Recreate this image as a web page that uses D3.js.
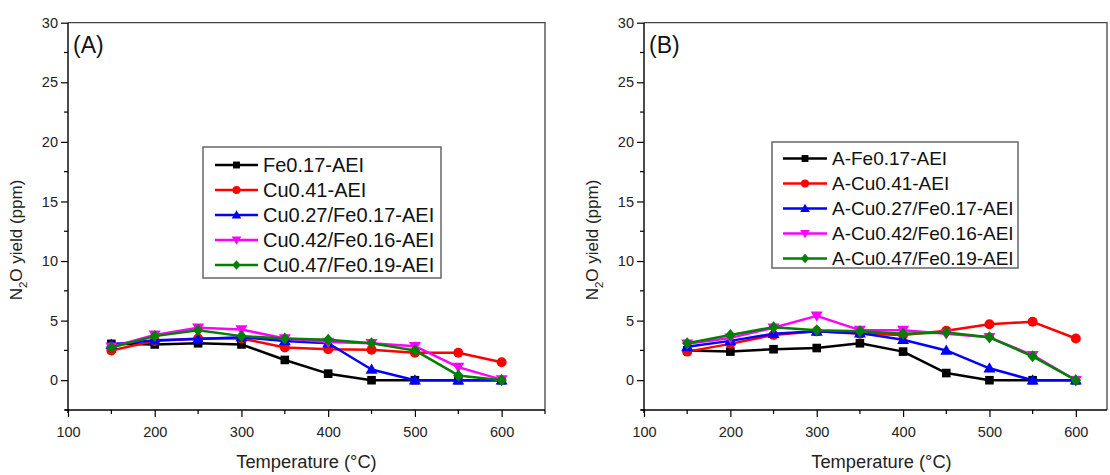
<!DOCTYPE html>
<html><head><meta charset="utf-8">
<script src="https://cdn.jsdelivr.net/npm/d3@7"></script>
<style>
html,body{margin:0;padding:0;background:#fff;overflow:hidden;}
svg{display:block;font-family:"Liberation Sans",Arial,sans-serif;}
</style></head>
<body>
<svg id="c" width="1110" height="475"></svg>
<script>
const temps = [150,200,250,300,350,400,450,500,550,600];
const xTicks = [100,200,300,400,500,600];
const yTicks = [0,5,10,15,20,25,30];

const namesA = ["Fe0.17-AEI","Cu0.41-AEI","Cu0.27/Fe0.17-AEI","Cu0.42/Fe0.16-AEI","Cu0.47/Fe0.19-AEI"];
const feA    = [3.05,3.0,3.1,3.0,1.7,0.55,0,0,0,0];
const cuA    = [2.5,3.3,3.5,3.5,2.75,2.6,2.55,2.3,2.3,1.5];
const cuFe27A= [3.0,3.35,3.45,3.6,3.3,3.1,0.9,0,0,0];
const cuFe42A= [2.8,3.8,4.4,4.25,3.5,3.2,3.1,2.85,1.1,0.05];
const cuFe47A= [2.75,3.7,4.2,3.7,3.5,3.4,3.1,2.5,0.4,0];

const namesB = ["A-Fe0.17-AEI","A-Cu0.41-AEI","A-Cu0.27/Fe0.17-AEI","A-Cu0.42/Fe0.16-AEI","A-Cu0.47/Fe0.19-AEI"];
const feB    = [2.5,2.4,2.6,2.7,3.1,2.4,0.6,0,0,0];
const cuB    = [2.4,3.05,3.8,4.1,3.9,3.8,4.15,4.7,4.9,3.5];
const cuFe27B= [2.8,3.3,3.9,4.1,3.95,3.4,2.5,1.0,0,0];
const cuFe42B= [3.05,3.55,4.4,5.4,4.2,4.2,3.9,3.6,2.1,0];
const cuFe47B= [3.1,3.8,4.45,4.2,4.1,3.9,4.0,3.6,2.0,0];

const colors = ["#000000","#ff0000","#0000ff","#ff00ff","#008000"];
const symbols = ["square","circle","triUp","triDown","diamond"];

const svg = d3.select("#c");

function marker(g, type, color, x, y, s) {
  s = s || 1;
  if (type === "square") {
    g.append("rect").attr("x", x-4.3*s).attr("y", y-4.3*s).attr("width", 8.6*s).attr("height", 8.6*s).attr("fill", color);
  } else if (type === "circle") {
    g.append("circle").attr("cx", x).attr("cy", y).attr("r", 5*s).attr("fill", color);
  } else if (type === "triUp") {
    g.append("path").attr("d", `M${x},${y-6*s}L${x+6*s},${y+4.3*s}L${x-6*s},${y+4.3*s}Z`).attr("fill", color);
  } else if (type === "triDown") {
    g.append("path").attr("d", `M${x},${y+6*s}L${x+6*s},${y-4.3*s}L${x-6*s},${y-4.3*s}Z`).attr("fill", color);
  } else if (type === "diamond") {
    g.append("path").attr("d", `M${x},${y-6*s}L${x+5.2*s},${y}L${x},${y+6*s}L${x-5.2*s},${y}Z`).attr("fill", color);
  }
}

function panel(opt) {
  const x = d3.scaleLinear().domain([100,650]).range([opt.x0, opt.x1]);
  const y = d3.scaleLinear().domain([-2.5,30]).range([410, 22.7]);
  const g = svg.append("g");
  const rightEdge = Math.min(x(650), 1107);

  g.append("path").attr("d", `M${x(100)},${y(30)}H${rightEdge}V${y(-2.5)}`)
    .attr("fill","none").attr("stroke","#444").attr("stroke-width",1.3);

  const xa = g.append("g").attr("transform", `translate(0,${y(-2.5)})`)
    .call(d3.axisBottom(x).tickValues(xTicks).tickSize(7).tickSizeOuter(0).tickFormat(d3.format("d")));
  xa.select(".domain").remove();
  xa.selectAll("text").attr("font-size", 14.5).attr("fill","#222").attr("dy","1.15em");
  xa.selectAll("line").attr("stroke","#000").attr("stroke-width",1.2);
  const xMinor = d3.range(150, 651, 100);
  xa.selectAll(".minor").data(xMinor).enter().append("line")
    .attr("x1", d=>x(d)).attr("x2", d=>x(d)).attr("y1",0).attr("y2",4)
    .attr("stroke","#000").attr("stroke-width",1.2);
  g.append("line").attr("x1", x(100)-3).attr("x2", rightEdge).attr("y1", y(-2.5)).attr("y2", y(-2.5))
    .attr("stroke","#000").attr("stroke-width",1.4);

  const ya = g.append("g").attr("transform", `translate(${x(100)},0)`)
    .call(d3.axisLeft(y).tickValues(yTicks).tickSize(7).tickSizeOuter(0).tickPadding(3));
  ya.select(".domain").remove();
  ya.selectAll("text").attr("font-size", 14.5).attr("fill","#222");
  ya.selectAll("line").attr("stroke","#000").attr("stroke-width",1.2);
  const yMinor = d3.range(-2.5, 30, 5);
  ya.selectAll(".minor").data(yMinor).enter().append("line")
    .attr("x1",-4).attr("x2",0).attr("y1", d=>y(d)).attr("y2", d=>y(d))
    .attr("stroke","#000").attr("stroke-width",1.2);
  g.append("line").attr("x1", x(100)).attr("x2", x(100)).attr("y1", y(30)).attr("y2", y(-2.5)+3)
    .attr("stroke","#000").attr("stroke-width",1.4);

  g.append("text").attr("x", (x(100)+x(650))/2).attr("y", 468)
    .attr("text-anchor","middle").attr("font-size",18.3).attr("fill","#222").text("Temperature (\u00B0C)");
  const yt = g.append("text").attr("transform", `translate(${x(100)-46},${240}) rotate(-90)`)
    .attr("text-anchor","middle").attr("font-size",17).attr("fill","#222");
  yt.append("tspan").text("N");
  yt.append("tspan").attr("font-size",11.5).attr("dy",5).text("2");
  yt.append("tspan").attr("dy",-5).text("O yield (ppm)");

  g.append("text").attr("x", x(100)+5).attr("y", 53).attr("font-size",23).attr("fill","#111").text(opt.label);

  const line = d3.line().x((d,i)=>x(temps[i])).y(d=>y(d));
  opt.series.forEach((s,k)=>{
    g.append("path").datum(s).attr("d", line).attr("fill","none")
      .attr("stroke", colors[k]).attr("stroke-width",2.5).attr("stroke-linejoin","round");
    s.forEach((v,i)=> marker(g, symbols[k], colors[k], x(temps[i]), y(v)));
  });

  const L = opt.legend;
  g.append("rect").attr("x", L.x).attr("y", L.y).attr("width", L.w).attr("height", L.h)
    .attr("fill","#fff").attr("stroke","#666").attr("stroke-width",1.5);
  opt.names.forEach((n,k)=>{
    const ly = L.y + L.first + k*L.step;
    g.append("line").attr("x1", L.lx).attr("x2", L.lx+L.ll).attr("y1", ly).attr("y2", ly)
      .attr("stroke", colors[k]).attr("stroke-width",2.5);
    marker(g, symbols[k], colors[k], L.lx+L.ll/2, ly, 0.8);
    g.append("text").attr("x", L.lx+L.ll+5).attr("y", ly).attr("dy","0.36em")
      .attr("font-size", L.fs).attr("fill","#111").text(n);
  });
}

panel({x0:68, x1:545, label:"(A)", names:namesA,
  series:[feA,cuA,cuFe27A,cuFe42A,cuFe47A],
  legend:{x:203, y:147, w:238, h:131, first:18, step:25, lx:215, ll:43, fs:20}});
panel({x0:644, x1:1119, label:"(B)", names:namesB,
  series:[feB,cuB,cuFe27B,cuFe42B,cuFe47B],
  legend:{x:772, y:142, w:246, h:126, first:16.5, step:25, lx:783, ll:44, fs:19}});
</script>
</body></html>
